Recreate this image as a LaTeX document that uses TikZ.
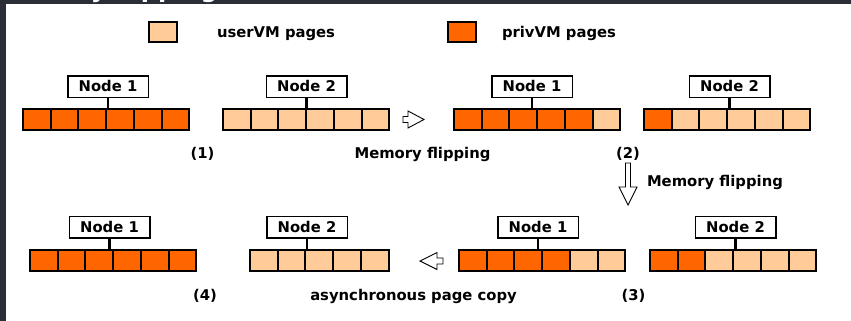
\documentclass[tikz,border=0pt]{standalone}
\usepackage{fontspec}
\setmainfont{DejaVu Sans}
\definecolor{privpage}{HTML}{FF6600}
\definecolor{userpage}{HTML}{FFCC99}
\definecolor{frame}{HTML}{2B2E36}

% one row of memory pages: name, left x, top y, list of page colours
\newcommand\pagestrip[4]{%
  \foreach \c [count=\i] in {#4} {
    \node[cell, fill=\c] (#1-\i) at ({#2+1+(\i-0.5)*27.7}, {#3+11.5}) {};
  }%
}

\begin{document}
\begin{tikzpicture}[x=1pt, y=-1pt,
  every node/.style={inner sep=0pt, outer sep=0pt},
  lbl/.style={font=\bfseries\fontsize{14.8}{17}\selectfont, text height=10.8pt, text depth=0pt},
  cell/.style={draw=black, line width=2pt, minimum width=27.7pt, minimum height=21pt},
  legendbox/.style={draw=black, line width=2pt, minimum width=28pt, minimum height=20pt},
  nodebox/.style={lbl, draw=black, fill=white, line width=1.5pt, minimum width=80.5pt, minimum height=21.5pt},
  stem/.style={line width=2.5pt},
  flip/.style={draw=black, fill=white, line width=0.9pt, line join=miter},
]
\useasboundingbox (0,0) rectangle (851,321);
\fill[white] (0,0) rectangle (851,321);

% window frame with the slide title above
\fill[frame] (0,0) rectangle (851,4.5);
\fill[frame] (0,0) rectangle (6,321);
\begin{scope}
  \clip (0,0) rectangle (851,4.5);
  \node[anchor=base west, text=white, font=\bfseries\fontsize{24}{28}\selectfont] (title) at (-2.5,-2.2) {Memory flipping};
\end{scope}

% legend
\node[legendbox, fill=userpage] (leguser) at (163,32) {};
\node[lbl, anchor=west] (leguserlbl) at (217,32) {userVM pages};
\node[legendbox, fill=privpage] (legpriv) at (462,32) {};
\node[lbl, anchor=west] (legprivlbl) at (502,32) {privVM pages};

% step (1)
\pagestrip{sa}{22}{108}{privpage,privpage,privpage,privpage,privpage,privpage}
\pagestrip{sb}{222}{108}{userpage,userpage,userpage,userpage,userpage,userpage}
\node[nodebox] (na) at (108,86.5) {Node 1};
\node[nodebox] (nb) at (306.5,86.5) {Node 2};
\draw[stem] (na.south) -- (na.south |- sa-1.north);
\draw[stem] (nb.south) -- (nb.south |- sb-1.north);
\node[lbl] (step1) at (202.5,153) {(1)};

% step (2)
\pagestrip{sc}{453}{108}{privpage,privpage,privpage,privpage,privpage,userpage}
\pagestrip{sd}{643}{108}{privpage,userpage,userpage,userpage,userpage,userpage}
\node[nodebox] (nc) at (532,86.5) {Node 1};
\node[nodebox] (nd) at (729.5,86.5) {Node 2};
\draw[stem] (nc.south) -- (nc.south |- sc-1.north);
\draw[stem] (nd.south) -- (nd.south |- sd-1.north);
\node[lbl] (step2) at (628,153) {(2)};

% step (3)
\pagestrip{se}{458}{249}{privpage,privpage,privpage,privpage,userpage,userpage}
\pagestrip{sf}{649}{249}{privpage,privpage,userpage,userpage,userpage,userpage}
\node[nodebox] (ne) at (538,227) {Node 1};
\node[nodebox] (nf) at (735.5,227) {Node 2};
\draw[stem] (ne.south) -- (ne.south |- se-1.north);
\draw[stem] (nf.south) -- (nf.south |- sf-1.north);
\node[lbl] (step3) at (633.5,295) {(3)};

% step (4)
\pagestrip{sg}{29}{249}{privpage,privpage,privpage,privpage,privpage,privpage}
\pagestrip{sh}{249}{249}{userpage,userpage,userpage,userpage,userpage}
\node[nodebox] (ng) at (109.5,227) {Node 1};
\node[nodebox] (nh) at (307,227) {Node 2};
\draw[stem] (ng.south) -- (ng.south |- sg-1.north);
\draw[stem] (nh.south) -- (nh.south |- sh-1.north);
\node[lbl] (step4) at (205,295) {(4)};

% transitions between the steps
\coordinate (flipright) at (403,119.5);
\draw[flip] (flipright) ++(0,-3) -- ++(5,0) -- ++(0,-5.5) -- ++(16,8.5) -- ++(-16,8.5) -- ++(0,-5.5) -- ++(-5,0) -- cycle;
\node[lbl] (flipa) at (422.5,153) {Memory flipping};

\coordinate (flipdown) at (628,163);
\draw[flip] (flipdown) ++(-2.5,0) -- ++(5,0) -- ++(0,24) -- ++(6.5,0) -- ++(-9,18) -- ++(-9,-18) -- ++(6.5,0) -- cycle;
\node[lbl, anchor=west] (flipb) at (647,181) {Memory flipping};

\coordinate (copyleft) at (443,261);
\draw[flip] (copyleft) ++(0,-3) -- ++(-6,0) -- ++(0,-5.5) -- ++(-17,8.5) -- ++(17,8.5) -- ++(0,-5.5) -- ++(6,0) -- cycle;
\node[lbl] (copy) at (413.5,295) {asynchronous page copy};
\end{tikzpicture}
\end{document}
